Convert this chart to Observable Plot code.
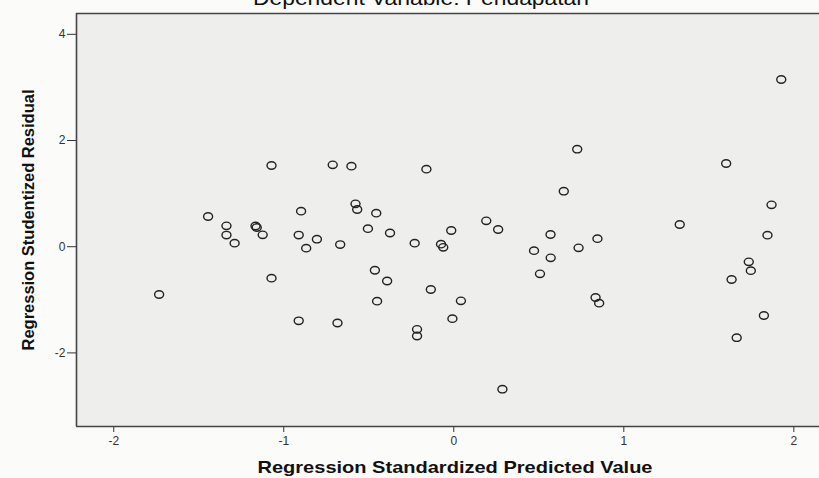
<!DOCTYPE html>
<html><head><meta charset="utf-8">
<script src="https://cdn.jsdelivr.net/npm/d3@7"></script>
<script src="https://cdn.jsdelivr.net/npm/@observablehq/plot@0.6"></script>
<style>
html,body{margin:0;padding:0;background:#fbfbf9;}
#chart{width:819px;height:478px;overflow:hidden;}
</style></head><body><div id="chart"></div>
<script>
const title = "Dependent Variable: Pendapatan";
const xLabel = "Regression Standardized Predicted Value";
const yLabel = "Regression Studentized Residual";
const xTicks = [-2, -1, 0, 1, 2];
const yTicks = [-2, 0, 2, 4];
const predicted = [1.926, 0.726, -1.072, -0.712, -0.602, -0.161, 1.602, 0.647, -0.578, -0.568, -0.898, -0.456, 1.869, -1.445, -1.337, -1.166, -1.159, 1.329, 0.191, 0.261, -0.505, -0.375, -0.015, -1.337, -1.124, -0.912, -0.805, -1.289, -0.868, -0.668, -0.230, -0.075, -0.062, 0.569, 0.845, 1.845, 0.472, 0.734, 0.570, 1.735, 1.747, 0.507, 1.634, -0.464, -1.072, -0.392, -0.135, -1.733, -0.451, 0.042, 0.834, 0.855, -0.008, -0.912, -0.684, -0.216, -0.216, 1.824, 1.664, 0.286];
const residual = [3.149, 1.836, 1.529, 1.542, 1.516, 1.460, 1.567, 1.045, 0.808, 0.701, 0.669, 0.631, 0.789, 0.569, 0.394, 0.390, 0.362, 0.418, 0.488, 0.324, 0.339, 0.258, 0.305, 0.220, 0.224, 0.220, 0.141, 0.066, -0.028, 0.041, 0.066, 0.047, -0.011, 0.230, 0.151, 0.217, -0.075, -0.021, -0.209, -0.284, -0.452, -0.510, -0.618, -0.443, -0.593, -0.646, -0.806, -0.900, -1.026, -1.019, -0.957, -1.064, -1.356, -1.395, -1.437, -1.556, -1.682, -1.296, -1.714, -2.684];
const xDomain = [-2.219, 2.151];
const yDomain = [-3.386, 4.392];

const points = predicted.map((x, i) => ({x, y: residual[i]}));

// slightly wide open ellipse (the reference is stretched horizontally)
const ellipse = {
  draw(ctx) {
    const rx = 4.5, ry = 3.7, k = 0.5523;
    ctx.moveTo(rx, 0);
    ctx.bezierCurveTo(rx, k * ry, k * rx, ry, 0, ry);
    ctx.bezierCurveTo(-k * rx, ry, -rx, k * ry, -rx, 0);
    ctx.bezierCurveTo(-rx, -k * ry, -k * rx, -ry, 0, -ry);
    ctx.bezierCurveTo(k * rx, -ry, rx, -k * ry, rx, 0);
    ctx.closePath();
  }
};

const plot = Plot.plot({
  width: 819, height: 478,
  marginLeft: 76, marginRight: 0, marginTop: 13, marginBottom: 52,
  style: {background: "transparent", fontFamily: "'Liberation Sans', Arial, sans-serif", fontSize: "12px", color: "#333"},
  x: {domain: xDomain, ticks: xTicks, tickSize: 6, tickPadding: 4, tickFormat: d => String(d), label: null},
  y: {domain: yDomain, ticks: yTicks, tickSize: 9, tickPadding: 2, tickFormat: d => String(d), label: null},
  marks: [
    Plot.frame({fill: "#eeeeec", stroke: null}),
    Plot.ruleX([xDomain[0]], {stroke: "#444", strokeWidth: 1.6}),
    Plot.ruleY([yDomain[0], yDomain[1]], {stroke: "#444", strokeWidth: 1.6}),
    Plot.dot(points, {x: "x", y: "y", symbol: ellipse, stroke: "#222", strokeWidth: 1.4, fill: "none"}),
    Plot.text([title], {frameAnchor: "top", lineAnchor: "top", textAnchor: "middle", dx: -27, dy: -22.5, text: d => d, fontSize: 20, fill: "#111"}),
    Plot.text([xLabel], {frameAnchor: "bottom", lineAnchor: "bottom", textAnchor: "middle", dx: 7, dy: 46.5, text: d => d, fontSize: 17, fontWeight: "bold", fill: "#111"}),
    Plot.text([yLabel], {frameAnchor: "left", lineAnchor: "middle", textAnchor: "middle", dx: -48, rotate: -90, text: d => d, fontSize: 16, fontWeight: "bold", fill: "#111"})
  ]
});

// match the horizontal stretch of the reference's lettering
const lengths = new Map([[title, 336], [xLabel, 395], [yLabel, 261]]);
d3.select(plot).selectAll("text").each(function() {
  const t = this.textContent;
  if (lengths.has(t)) {
    this.setAttribute("textLength", lengths.get(t));
    this.setAttribute("lengthAdjust", "spacingAndGlyphs");
  }
});
document.getElementById("chart").appendChild(plot);
</script>
</body></html>
